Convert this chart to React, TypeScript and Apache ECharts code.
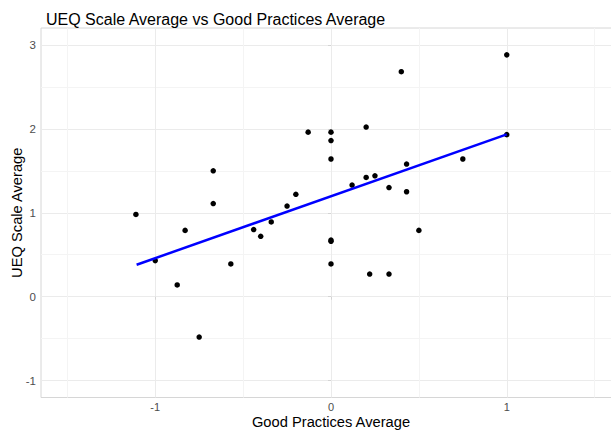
import React, { useEffect, useRef } from "react";
import * as echarts from "echarts";

const goodPracticesAvg = [
  -1.11, -1.0, -0.875, -0.83, -0.75, -0.67, -0.67, -0.57, -0.44, -0.4, -0.34,
  -0.25, -0.2, -0.13, 0, 0, 0, 0, 0, 0, 0.12, 0.2, 0.2, 0.22, 0.25, 0.33, 0.33,
  0.4, 0.43, 0.43, 0.5, 0.75, 1.0, 1.0,
];
const ueqScaleAvg = [
  0.98, 0.43, 0.14, 0.79, -0.48, 1.5, 1.11, 0.39, 0.8, 0.72, 0.89, 1.08, 1.22,
  1.96, 1.96, 1.86, 1.64, 0.675, 0.66, 0.39, 1.33, 2.02, 1.42, 0.27, 1.44, 1.3,
  0.27, 2.68, 1.58, 1.25, 0.79, 1.64, 2.88, 1.93,
];
const fitLineX = [-1.106, 1.0];
const fitLineY = [0.381, 1.933];

const xMajorBreaks = [-1, 0, 1];
const xMinorBreaks = [-1.5, -0.5, 0.5, 1.5];
const yMajorBreaks = [-1, 0, 1, 2, 3];
const yMinorBreaks = [-0.5, 0.5, 1.5, 2.5];

const titleText = "UEQ Scale Average vs Good Practices Average";
const xTitle = "Good Practices Average";
const yTitle = "UEQ Scale Average";

const FONT = "'Liberation Sans', Arial, Helvetica, sans-serif";

export default function App() {
  const ref = useRef<HTMLDivElement>(null);
  useEffect(() => {
    if (!ref.current) return;
    const chart = echarts.init(ref.current, null, { renderer: "svg" });
    const scatterData = goodPracticesAvg.map((x, i) => [x, ueqScaleAvg[i]]);
    const lineData = fitLineX.map((x, i) => [x, fitLineY[i]]);
    const majorColor = "#EBEBEB";
    const minorColor = "#F4F4F4";
    const tickColor = "#D4D4D4";
    chart.setOption({
      animation: false,
      backgroundColor: "#FFFFFF",
      title: {
        text: titleText,
        left: 41,
        top: 6,
        textStyle: {
          fontSize: 16,
          fontWeight: "normal",
          color: "#000000",
          fontFamily: FONT,
        },
      },
      grid: {
        left: 41,
        right: -10,
        top: 28,
        bottom: 34.5,
        outerBoundsMode: "none",
        containLabel: false,
        show: true,
        borderColor: "#D6D6D6",
        borderWidth: 1,
        backgroundColor: "transparent",
      },
      xAxis: [
        {
          type: "value",
          min: -1.65,
          max: 1.65,
          position: "bottom",
          axisLine: { show: false },
          axisTick: {
            show: true,
            customValues: xMajorBreaks,
            length: 3,
            lineStyle: { color: tickColor },
          },
          axisLabel: {
            customValues: xMajorBreaks,
            color: "#4D4D4D",
            fontSize: 11,
            margin: 4,
            fontFamily: FONT,
          },
          splitLine: { show: true, lineStyle: { color: majorColor, width: 1 } },
          name: xTitle,
          nameLocation: "middle",
          nameGap: 17,
          nameMoveOverlap: false,
          nameTextStyle: { fontSize: 14.7, color: "#000000", fontFamily: FONT },
        },
        {
          type: "value",
          min: -1.65,
          max: 1.65,
          position: "bottom",
          axisLine: { show: false },
          axisTick: { show: false, customValues: xMinorBreaks },
          axisLabel: { show: false, customValues: xMinorBreaks },
          splitLine: { show: true, lineStyle: { color: minorColor, width: 1 } },
        },
      ],
      yAxis: [
        {
          type: "value",
          min: -1.2,
          max: 3.2,
          position: "left",
          axisLine: { show: false },
          axisTick: {
            show: true,
            customValues: yMajorBreaks,
            length: 3,
            lineStyle: { color: tickColor },
          },
          axisLabel: {
            customValues: yMajorBreaks,
            color: "#4D4D4D",
            fontSize: 11.5,
            margin: 5,
            fontFamily: FONT,
          },
          splitLine: { show: true, lineStyle: { color: majorColor, width: 1 } },
          name: yTitle,
          nameLocation: "middle",
          nameGap: 17,
          nameMoveOverlap: false,
          nameTextStyle: { fontSize: 14.7, color: "#000000", fontFamily: FONT },
        },
        {
          type: "value",
          min: -1.2,
          max: 3.2,
          position: "left",
          axisLine: { show: false },
          axisTick: { show: false, customValues: yMinorBreaks },
          axisLabel: { show: false, customValues: yMinorBreaks },
          splitLine: { show: true, lineStyle: { color: minorColor, width: 1 } },
        },
      ],
      series: [
        {
          type: "scatter",
          xAxisIndex: 0,
          yAxisIndex: 0,
          data: scatterData,
          symbol: "circle",
          symbolSize: 5.5,
          itemStyle: { color: "#000000", opacity: 1 },
          z: 3,
        },
        {
          type: "line",
          xAxisIndex: 0,
          yAxisIndex: 0,
          data: lineData,
          symbol: "none",
          lineStyle: { color: "#0000FF", width: 2.5 },
          z: 4,
        },
      ],
    });
    return () => chart.dispose();
  }, []);
  return (
    <div
      ref={ref}
      style={{ position: "absolute", left: 0, top: 0, width: 611, height: 432 }}
    />
  );
}
